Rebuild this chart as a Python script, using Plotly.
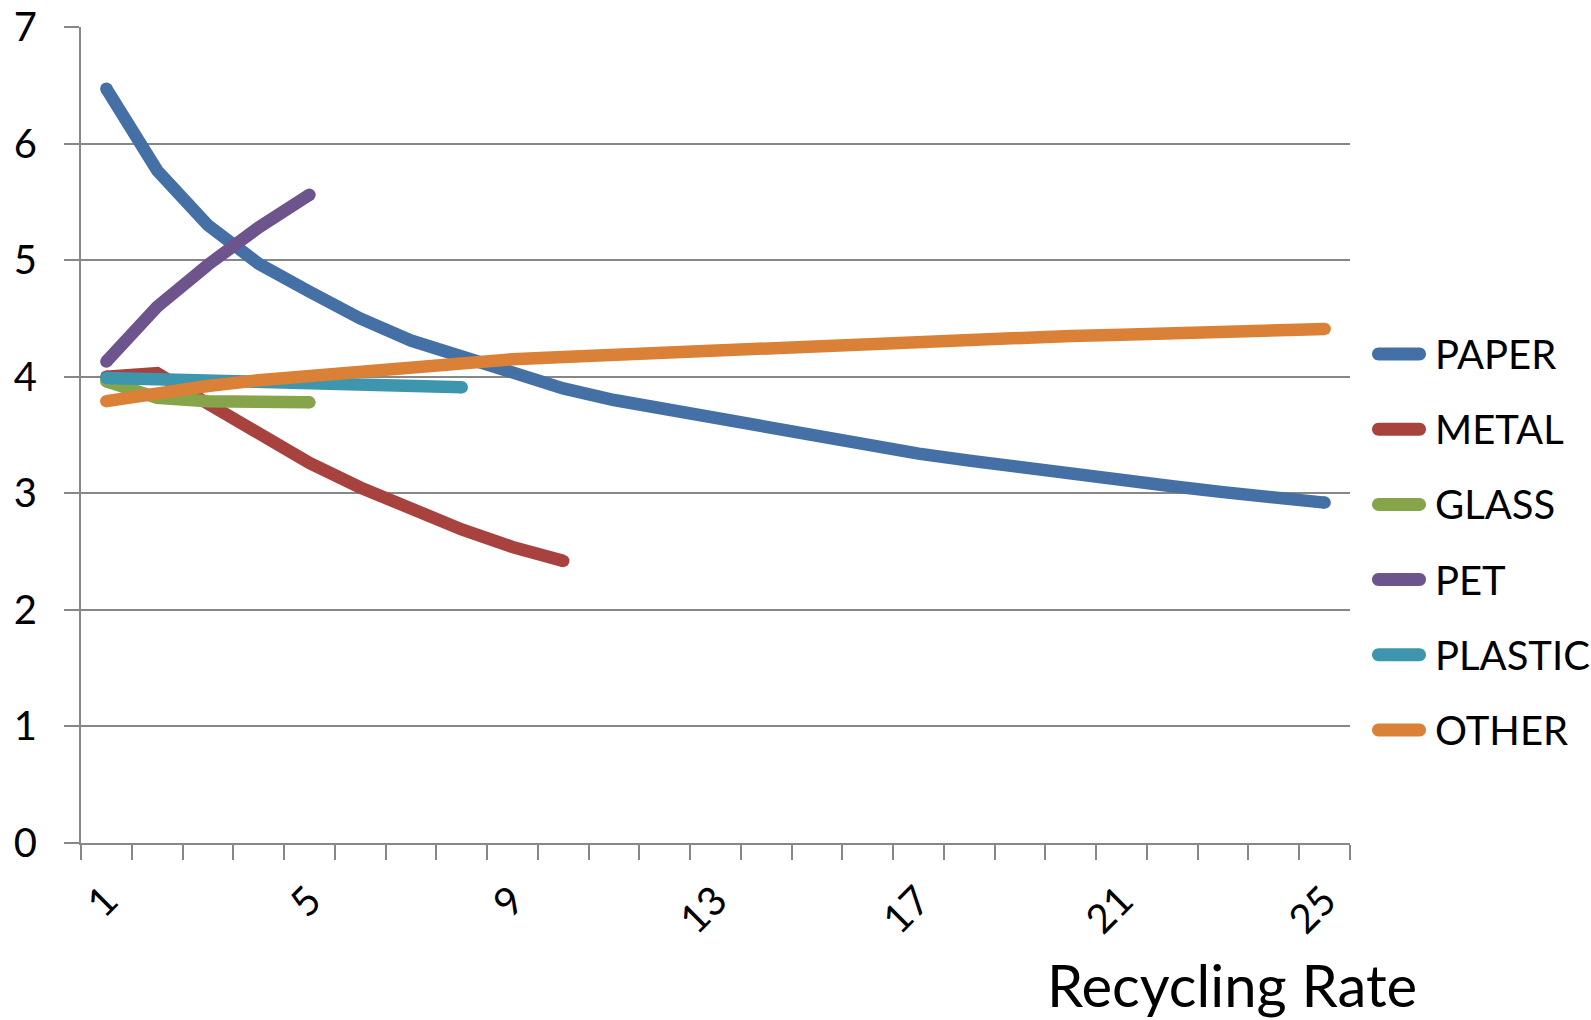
import plotly.graph_objects as go

# Recycling rate steps on the x axis
rates = list(range(1, 26))
tick_labels = ["1", "5", "9", "13", "17", "21", "25"]
tick_positions = [1, 5, 9, 13, 17, 21, 25]

series_names = ["PAPER", "METAL", "GLASS", "PET", "PLASTIC", "OTHER"]

paper = [6.47, 5.77, 5.30, 4.97, 4.73, 4.50, 4.31, 4.17, 4.04, 3.90,
         3.80, 3.72, 3.64, 3.56, 3.49, 3.41, 3.34, 3.28, 3.22, 3.16,
         3.11, 3.06, 3.01, 2.96, 2.92]
metal = [4.00, 4.03, 3.77, 3.50, 3.26, 3.05, 2.86, 2.69, 2.54, 2.42]
glass = [3.96, 3.82, 3.79, 3.78, 3.78]
pet = [4.13, 4.60, 4.96, 5.28, 5.56]
plastic = [3.99, 3.98, 3.96, 3.95, 3.94, 3.93, 3.92, 3.91]
other = [3.79, 3.86, 3.92, 3.97, 4.01, 4.05, 4.08, 4.12, 4.15, 4.17,
         4.19, 4.21, 4.23, 4.25, 4.27, 4.29, 4.30, 4.32, 4.33, 4.35,
         4.36, 4.37, 4.39, 4.40, 4.41]

series_values = [paper, metal, glass, pet, plastic, other]
colors = ["#4470A5", "#A8423F", "#86A44A", "#6E548D", "#3D96AE", "#DA8137"]

FONT = "Lato"
W, H = 1591, 1020
L, R, T, B = 81, 241, 27, 177
LINE_W = 12.5
AXIS_COLOR = "#878787"


def px_to_paper_x(px):
    return (px - L) / (W - L - R)


def px_to_paper_y(py):
    return (H - B - py) / (H - T - B)


fig = go.Figure()
for name, vals, col in zip(series_names, series_values, colors):
    n = len(vals)
    # round caps only at the two ends of each line
    cap_sizes = [LINE_W if j in (0, n - 1) else 0 for j in range(n)]
    fig.add_trace(go.Scatter(
        x=rates[:n], y=vals, name=name,
        mode="lines+markers",
        line=dict(color=col, width=LINE_W),
        marker=dict(color=col, size=cap_sizes, opacity=1, line=dict(width=0)),
        showlegend=False,
    ))

# Legend: rounded line keys with labels
legend_top = 354
legend_step = 75.2
key_cx = 1399
text_x = 1433
half, r = 27, 6.5
k = 0.55 * r
capsule = (
    f"M {-half + r},{-r} L {half - r},{-r} "
    f"C {half - r + k},{-r} {half},{-k} {half},0 "
    f"C {half},{k} {half - r + k},{r} {half - r},{r} "
    f"L {-half + r},{r} "
    f"C {-half + r - k},{r} {-half},{k} {-half},0 "
    f"C {-half},{-k} {-half + r - k},{-r} {-half + r},{-r} Z"
)
shapes = []
annotations = []
for i, (name, col) in enumerate(zip(series_names, colors)):
    yc = legend_top + i * legend_step
    shapes.append(dict(
        type="path", xref="paper", yref="paper",
        xsizemode="pixel", ysizemode="pixel",
        xanchor=px_to_paper_x(key_cx), yanchor=px_to_paper_y(yc),
        path=capsule, fillcolor=col, line=dict(width=0),
    ))
    annotations.append(dict(
        text=name, xref="paper", yref="paper",
        x=px_to_paper_x(text_x), y=px_to_paper_y(yc),
        xanchor="left", yanchor="middle", showarrow=False,
        font=dict(family=FONT, size=40, color="black"),
    ))

annotations.append(dict(
    text="Recycling Rate", xref="paper", yref="paper",
    x=px_to_paper_x(1232), y=px_to_paper_y(984),
    xanchor="center", yanchor="middle", showarrow=False,
    font=dict(family=FONT, size=58, color="black"),
))

fig.update_layout(
    width=W, height=H,
    margin=dict(l=L, r=R, t=T, b=B, pad=0),
    paper_bgcolor="white", plot_bgcolor="white",
    font=dict(family=FONT, size=40, color="black"),
    shapes=shapes, annotations=annotations,
    showlegend=False,
)

fig.update_xaxes(
    range=[0.5, 25.5], tickmode="array",
    tickvals=tick_positions, ticktext=tick_labels,
    tickangle=-45, ticks="", ticklabelstandoff=16,
    showgrid=False, zeroline=False, automargin=False,
    showline=True, linecolor=AXIS_COLOR, linewidth=2,
    minor=dict(ticks="outside", tick0=0.5, dtick=1, ticklen=15,
               tickwidth=2, tickcolor=AXIS_COLOR, showgrid=False),
    tickfont=dict(family=FONT, size=40, color="black"),
)
fig.update_yaxes(
    range=[0, 7], tickmode="linear", tick0=0, dtick=1,
    ticks="outside", ticklen=15, tickwidth=2, tickcolor=AXIS_COLOR,
    ticklabelstandoff=19,
    showgrid=True, gridcolor=AXIS_COLOR, gridwidth=2,
    zeroline=False, automargin=False,
    showline=True, linecolor=AXIS_COLOR, linewidth=2,
    tickfont=dict(family=FONT, size=40, color="black"),
)

fig.write_html("out.html")
